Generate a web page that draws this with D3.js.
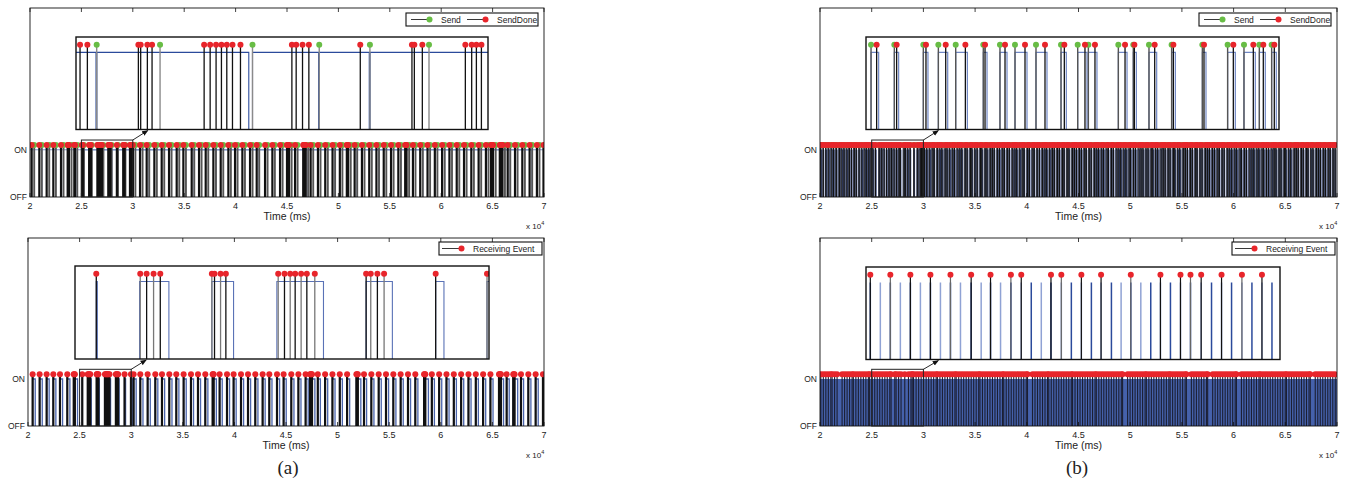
<!DOCTYPE html>
<html>
<head>
<meta charset="utf-8">
<script src="https://cdn.jsdelivr.net/npm/d3@7"></script>
<style>
body { margin: 0; background: #fff; }
text { font-family: "Liberation Sans", Arial, sans-serif; fill: #222; }
</style>
</head>
<body>
<script>
"use strict";

// axis ticks
const xTicks = [20000, 25000, 30000, 35000, 40000, 45000, 50000, 55000, 60000, 65000, 70000];
const xTickLabels = ["2", "2.5", "3", "3.5", "4", "4.5", "5", "5.5", "6", "6.5", "7"];
const yTicks = [0, 1];
const yTickLabels = ["OFF", "ON"];

// (a) sender: zoomed window 25000-30000 ms
const aDoneZoom = [25049, 25138, 25757, 25785, 25866, 25923, 26555, 26628, 26700, 26765, 26830, 26899, 26996,
  27620, 27672, 27749, 27826, 28450, 29077, 29106, 29203, 29725, 29802, 29859, 29920];
const aSendZoom = [25251, 26020, 27142, 27952, 28567, 29284];
const aDipsZoom = [[25243, 25253], [27097, 27142], [27944, 27954], [28559, 28569]];
// (a) sender: rest of the run
const aDoneMain = [20162, 20908, 21621, 22270, 23016, 23665, 23720, 23790, 24314, 24380,
  30010, 30703, 31351, 32097, 32811, 33524, 34270, 34919, 35730, 36443, 37092, 37838, 38551, 39297, 39946,
  40659, 41405, 42054, 42865, 43578, 44324, 45000, 45060, 45130, 45200, 45784, 46580, 46640, 46700, 46760,
  46820, 47300, 48010, 48720, 49430, 50140, 50820, 50880, 50950, 51580, 52290, 53000, 53700, 54410, 55120,
  55830, 56500, 56560, 56630, 57250, 57960, 58670, 59380, 60090, 60800, 61510, 62220, 62930, 63640, 64350,
  64850, 64910, 64980, 65040, 65700, 65760, 65830, 65900, 65960, 66470, 67180, 67890, 68600, 69310, 69950];
const aSendMain = [20410, 21150, 21870, 22520, 23260, 24040, 24600, 30250, 30950, 31600, 32340, 33060, 33770,
  34520, 35170, 35980, 36690, 37340, 38090, 38800, 39540, 40190, 40910, 41650, 42300, 43110, 43820, 44570,
  45450, 46030, 47060, 47550, 48260, 48970, 49680, 50390, 51200, 51830, 52540, 53250, 53950, 54660, 55370,
  56080, 56880, 57500, 58210, 58920, 59630, 60340, 61050, 61760, 62470, 63180, 63890, 64600, 65300, 66200,
  66720, 67430, 68140, 68850, 69560];
const aDipsMain = [[21140, 21150], [23250, 23260], [24590, 24600], [31590, 31600], [33760, 33770], [35970, 35980],
  [38080, 38090], [40180, 40190], [42290, 42300], [44560, 44570], [47050, 47060], [49670, 49680], [51820, 51830],
  [53940, 53950], [56070, 56080], [58200, 58210], [60330, 60340], [62460, 62470], [64590, 64600], [66710, 66720],
  [68840, 68850]];

// (a) receiver
const aRxZoom = [25257, 25788, 25865, 25949, 26030, 26653, 26685, 26758, 26822, 27454, 27530, 27599, 27659,
  27731, 27800, 27896, 28516, 28572, 28652, 28733, 29356, 29976];
const aRxOnZoom = [[25257, 25270], [25780, 26134], [26653, 26915], [27438, 28001], [28516, 28833], [29356, 29456],
  [29976, 30100]];
const aRxMain = [20449, 21127, 21806, 22452, 23098, 23808, 24430, 24486, 24540, 30233, 30882, 31592, 32336,
  32982, 33692, 34370, 35079, 35792, 36470, 37180, 37889, 37940, 37990, 38567, 39283, 39922, 40640, 41318,
  42025, 42734, 43382, 44128, 44768, 45514, 46200, 46900, 47330, 47400, 47460, 47520, 48080, 48790, 49500,
  50210, 50920, 51820, 51890, 51960, 52560, 53270, 53980, 54690, 55400, 56110, 56820, 57530, 58380, 58440,
  58500, 59130, 59840, 60550, 61260, 61970, 62680, 63390, 64100, 64810, 65640, 65700, 65760, 65830, 66380,
  67020, 67080, 67150, 67770, 68480, 69190, 69900];
const aRxOnMain = [[20449, 20700], [21127, 21380], [21806, 22050], [22452, 22700], [23098, 23350], [23808, 24060],
  [24430, 24800], [30233, 30480], [30882, 31140], [31592, 31850], [32336, 32580], [32982, 33240], [33692, 33950],
  [34370, 34620], [35079, 35330], [35792, 36040], [36470, 36720], [37180, 37430], [37889, 38250], [38567, 38820],
  [39283, 39530], [39922, 40170], [40640, 40890], [41318, 41570], [42025, 42280], [42734, 42980], [43382, 43640],
  [44128, 44380], [44768, 45020], [45514, 45770], [46200, 46450], [46900, 47150], [47330, 47800], [48080, 48330],
  [48790, 49040], [49500, 49750], [50210, 50460], [50920, 51170], [51820, 52250], [52560, 52810], [53270, 53520],
  [53980, 54230], [54690, 54940], [55400, 55650], [56110, 56360], [56820, 57070], [57530, 57780], [58380, 58800],
  [59130, 59380], [59840, 60090], [60550, 60800], [61260, 61510], [61970, 62220], [62680, 62930], [63390, 63640],
  [64100, 64350], [64810, 65060], [65640, 66080], [66380, 66630], [67020, 67450], [67770, 68020], [68480, 68730],
  [69190, 69440], [69900, 70000]];

// (b) sender: [Send, SendDone] pairs
const bPairsZoom = [[25061, 25129], [25343, 25371], [25694, 25726], [25876, 25965], [26086, 26203], [26420, 26441],
  [26622, 26683], [26804, 26925], [27058, 27167], [27361, 27401], [27563, 27651], [27692, 27772], [28055, 28136],
  [28236, 28249], [28426, 28495], [28700, 28721], [29072, 29092], [29378, 29447], [29576, 29689], [29762, 29810],
  [29911, 29943]];
const bPairsMain = [[20020, 20080], [20290, 20315], [20540, 20570], [20760, 20850], [21030, 21140], [21300, 21320],
  [21520, 21580], [21770, 21890], [22010, 22115], [22290, 22330], [22510, 22600], [22760, 22840], [23030, 23045],
  [23250, 23320], [23490, 23510], [23760, 23780], [23980, 24050], [24230, 24340], [24470, 24520], [24700, 24730],
  [24880, 24950], [30060, 30120], [30310, 30330], [30540, 30620], [30800, 30910], [31020, 31045], [31290, 31350],
  [31510, 31600], [31770, 31790], [32000, 32110], [32260, 32290], [32480, 32550], [32750, 32840], [32990, 33010],
  [33220, 33330], [33480, 33540], [33700, 33720], [33960, 34050], [34200, 34230], [34450, 34560], [34660, 34700],
  [34930, 34990], [35170, 35200], [35420, 35530], [35640, 35660], [35890, 35980], [36130, 36150], [36360, 36470],
  [36610, 36670], [36830, 36850], [37090, 37180], [37340, 37370], [37560, 37670], [37800, 37830], [38060, 38120],
  [38290, 38310], [38530, 38640], [38780, 38860], [39010, 39030], [39260, 39330], [39500, 39610], [39720, 39745],
  [39990, 40080], [40220, 40250], [40470, 40580], [40690, 40720], [40950, 41010], [41200, 41220], [41420, 41530],
  [41680, 41760], [41910, 41930], [42160, 42220], [42380, 42490], [42640, 42660], [42870, 42960], [43120, 43150],
  [43350, 43460], [43590, 43610], [43840, 43910], [44060, 44080], [44310, 44420], [44540, 44620], [44790, 44810],
  [45010, 45100], [45260, 45290], [45490, 45600], [45720, 45750], [45980, 46040], [46210, 46230], [46450, 46560],
  [46690, 46770], [46930, 46950], [47160, 47250], [47400, 47430], [47640, 47750], [47870, 47890], [48120, 48190],
  [48350, 48370], [48600, 48710], [48830, 48910], [49070, 49090], [49300, 49390], [49560, 49590], [49790, 49900],
  [50020, 50040], [50270, 50330], [50500, 50520], [50740, 50850], [50980, 51060], [51220, 51240], [51450, 51540],
  [51700, 51730], [51930, 52040], [52170, 52190], [52410, 52470], [52640, 52660], [52880, 52990], [53120, 53200],
  [53360, 53380], [53590, 53680], [53830, 53860], [54070, 54180], [54300, 54320], [54550, 54610], [54780, 54800],
  [55030, 55140], [55260, 55340], [55510, 55530], [55740, 55830], [55980, 56010], [56220, 56330], [56450, 56470],
  [56700, 56760], [56930, 56950], [57170, 57280], [57410, 57490], [57650, 57670], [57880, 57970], [58130, 58160],
  [58360, 58470], [58600, 58620], [58840, 58900], [59070, 59090], [59320, 59430], [59550, 59630], [59800, 59820],
  [60030, 60120], [60270, 60300], [60510, 60620], [60740, 60760], [60990, 61050], [61220, 61240], [61460, 61570],
  [61700, 61780], [61940, 61960], [62170, 62260], [62420, 62450], [62650, 62760], [62890, 62910], [63130, 63190],
  [63370, 63390], [63600, 63710], [63850, 63930], [64080, 64100], [64320, 64410], [64560, 64590], [64800, 64910],
  [65030, 65050], [65280, 65340], [65510, 65530], [65760, 65870], [65990, 66070], [66230, 66250], [66470, 66560],
  [66710, 66740], [66950, 67060], [67180, 67200], [67430, 67490], [67660, 67680], [67900, 68010], [68140, 68220],
  [68380, 68400], [68620, 68710], [68860, 68890], [69090, 69200], [69330, 69350], [69570, 69630], [69800, 69820]];

// (b) receiver
const bRxZoom = [25052, 25294, 25536, 25778, 26020, 26270, 26504, 26750, 26875, 27234, 27359, 27601, 27839,
  28198, 28556, 28798, 28919, 29048, 29294, 29540, 29782];
const bWakeZoom = [25052, 25173, 25294, 25415, 25536, 25657, 25778, 25899, 26020, 26141, 26270, 26391, 26504,
  26625, 26750, 26875, 26996, 27117, 27234, 27359, 27480, 27601, 27722, 27839, 27964, 28081, 28198, 28319, 28439,
  28556, 28677, 28798, 28919, 29048, 29173, 29294, 29415, 29540, 29661, 29782, 29903];
const bWakeBand = [[20000, 70000]];
const bRxMain = [20080, 20322, 20564, 20806, 21048, 21169, 21411, 21653, 22137, 22379, 22621, 22863, 23105,
  23226, 23468, 23710, 23952, 24194, 24436, 24678, 24799, 30024, 30266, 30508, 30750, 30992, 31234, 31355,
  31597, 31839, 32081, 32323, 32565, 32807, 33049, 33170, 33412, 33654, 33896, 34138, 34380, 34622, 34864,
  35106, 35348, 35469, 35711, 35953, 36195, 36437, 36679, 36921, 37163, 37405, 37647, 37768, 38010, 38252,
  38494, 38736, 38978, 39220, 39462, 39704, 39946, 40067, 40551, 40793, 41035, 41277, 41519, 41761, 42003,
  42124, 42366, 42608, 42850, 43092, 43334, 43576, 43818, 44060, 44302, 44423, 44665, 44907, 45149, 45391,
  45633, 45875, 46117, 46359, 46601, 46722, 46964, 47206, 47448, 47690, 47932, 48174, 48416, 48658, 48900,
  49142, 49263, 49747, 49989, 50231, 50473, 50715, 50957, 51199, 51441, 51562, 51804, 52046, 52288, 52530,
  52772, 53014, 53256, 53498, 53740, 53861, 54103, 54345, 54587, 54829, 55071, 55313, 55434, 55918, 56160,
  56402, 56644, 56886, 57128, 57370, 57491, 57975, 58217, 58459, 58701, 58943, 59185, 59427, 59669, 59911,
  60153, 60274, 60758, 61000, 61242, 61484, 61726, 61968, 62210, 62452, 62573, 62815, 63057, 63299, 63541,
  63783, 64025, 64267, 64509, 64751, 64993, 65114, 65356, 65598, 65840, 66082, 66324, 66566, 66808, 67050,
  67292, 67413, 67897, 68139, 68381, 68623, 68865, 69107, 69349, 69591, 69833];

const RED = "#e8252b", GREEN = "#68bd45", BLUE = "#2b4a9b", LBLUE = "#8fa2d4";
const STEM = 1.1; // marker height above ON

const svg = d3.select("body").append("svg").attr("width", 1347).attr("height", 489);
const defs = svg.append("defs");
defs.append("marker").attr("id", "arrow").attr("viewBox", "0 0 10 10")
  .attr("refX", 9).attr("refY", 5).attr("markerWidth", 7).attr("markerHeight", 7)
  .attr("orient", "auto")
  .append("path").attr("d", "M0,1 L10,5 L0,9 Z").attr("fill", "#111");

let clipId = 0;
function clipped(g, x0, y0, w, h) {
  const id = "clip" + (clipId++);
  defs.append("clipPath").attr("id", id).append("rect")
    .attr("x", x0).attr("y", y0).attr("width", w).attr("height", h);
  return g.append("g").attr("clip-path", `url(#${id})`);
}

function panel(box, ins) {
  const x = d3.scaleLinear().domain([20000, 70000]).range([box.x0, box.x1]);
  const y = d3.scaleLinear().domain([0, 4]).range([box.y1, box.y0]);
  const ix = d3.scaleLinear().domain([25000, 30000]).range([ins.x0, ins.x1]);
  const iy = d3.scaleLinear().domain([0, 1.2]).range([ins.y1, ins.y0]);
  const g = svg.append("g");
  g.append("rect").attr("x", box.x0).attr("y", box.y0)
    .attr("width", box.x1 - box.x0).attr("height", box.y1 - box.y0).attr("fill", "#fff");
  const main = clipped(g, box.x0, box.y0, box.x1 - box.x0, box.y1 - box.y0);
  return { x, y, ix, iy, g, main, box, ins };
}

function frame(p) {
  const { x, y, g, box } = p;
  g.append("rect").attr("x", box.x0).attr("y", box.y0)
    .attr("width", box.x1 - box.x0).attr("height", box.y1 - box.y0)
    .attr("fill", "none").attr("stroke", "#111").attr("stroke-width", 0.9);
  g.append("g").selectAll("line").data(xTicks).join("line")
    .attr("x1", d => x(d)).attr("x2", d => x(d)).attr("y1", box.y0).attr("y2", box.y0 + 4)
    .attr("stroke", "#111").attr("stroke-width", 0.8);
  g.append("g").selectAll("line").data(xTicks).join("line")
    .attr("x1", d => x(d)).attr("x2", d => x(d)).attr("y1", box.y1).attr("y2", box.y1 - 4)
    .attr("stroke", "#111").attr("stroke-width", 0.8);
  g.append("g").selectAll("text").data(xTicks).join("text")
    .attr("x", d => x(d)).attr("y", box.y1 + 12).attr("text-anchor", "middle")
    .attr("font-size", 9).text((d, i) => xTickLabels[i]);
  g.append("g").selectAll("text").data(yTicks).join("text")
    .attr("x", box.x0 - 3).attr("y", d => y(d) + 3).attr("text-anchor", "end")
    .attr("font-size", 8.5).text((d, i) => yTickLabels[i]);
  g.append("text").attr("x", (box.x0 + box.x1) / 2).attr("y", box.y1 + 22.5)
    .attr("text-anchor", "middle").attr("font-size", 10.5).text("Time (ms)");
  const ex = g.append("text").attr("x", box.x1 - 18).attr("y", box.y1 + 31.5).attr("font-size", 8);
  ex.append("tspan").text("x 10");
  ex.append("tspan").attr("dy", -4).attr("font-size", 5.5).text("4");
}

function zoomBox(p) {
  const { x, y, g, box, ins } = p;
  const top = y(STEM) - 5;
  g.append("rect").attr("x", x(25000)).attr("y", top)
    .attr("width", x(30000) - x(25000)).attr("height", box.y1 - top)
    .attr("fill", "none").attr("stroke", "#222").attr("stroke-width", 1);
  g.append("line").attr("x1", x(30000)).attr("y1", top)
    .attr("x2", x(30000) + 15).attr("y2", ins.y1 + 1)
    .attr("stroke", "#111").attr("stroke-width", 0.9).attr("marker-end", "url(#arrow)");
}

function inset(p) {
  const { g, ins } = p;
  g.append("rect").attr("x", ins.x0).attr("y", ins.y0)
    .attr("width", ins.x1 - ins.x0).attr("height", ins.y1 - ins.y0).attr("fill", "#fff");
  return clipped(g, ins.x0, ins.y0, ins.x1 - ins.x0, ins.y1 - ins.y0);
}

function insetBorder(p) {
  const { g, ins } = p;
  g.append("rect").attr("x", ins.x0).attr("y", ins.y0)
    .attr("width", ins.x1 - ins.x0).attr("height", ins.y1 - ins.y0)
    .attr("fill", "none").attr("stroke", "#111").attr("stroke-width", 1.4);
}

function stems(g, xs, ys, times, color, w) {
  g.append("g").selectAll("line").data(times).join("line")
    .attr("x1", d => xs(d)).attr("x2", d => xs(d))
    .attr("y1", ys(0)).attr("y2", ys(STEM))
    .attr("stroke", color).attr("stroke-width", w);
}

function dots(g, xs, ys, times, color, r) {
  g.append("g").selectAll("circle").data(times).join("circle")
    .attr("cx", d => xs(d)).attr("cy", ys(STEM)).attr("r", r).attr("fill", color);
}

function dipLine(g, xs, ys, dips, color, w) {
  const pts = [[xs.domain()[0] - 1000, 1]];
  dips.forEach(([s, e]) => pts.push([s, 1], [s, 0], [e, 0], [e, 1]));
  pts.push([xs.domain()[1] + 1000, 1]);
  g.append("path").attr("d", d3.line().x(d => xs(d[0])).y(d => ys(d[1]))(pts))
    .attr("fill", "none").attr("stroke", color).attr("stroke-width", w);
}

function onRects(g, xs, ys, spans, color, w, pad) {
  g.append("g").selectAll("path").data(spans).join("path")
    .attr("d", d => d3.line()([[xs(d[0]), ys(0)], [xs(d[0]), ys(1)], [xs(d[1]) + pad, ys(1)], [xs(d[1]) + pad, ys(0)]]))
    .attr("fill", "none").attr("stroke", color).attr("stroke-width", w);
}

function legend(g, x0, y0, w, items) {
  const h = 13;
  g.append("rect").attr("x", x0).attr("y", y0).attr("width", w).attr("height", h)
    .attr("fill", "#fff").attr("stroke", "#111").attr("stroke-width", 1.1);
  items.forEach(it => {
    const cy = y0 + h / 2;
    g.append("line").attr("x1", x0 + it.dx).attr("x2", x0 + it.dx + it.len).attr("y1", cy).attr("y2", cy)
      .attr("stroke", "#222").attr("stroke-width", 0.9);
    g.append("circle").attr("cx", x0 + it.dx + it.len + 1.5).attr("cy", cy).attr("r", 3).attr("fill", it.color);
    g.append("text").attr("x", x0 + it.dx + it.len + 13).attr("y", cy + 3).attr("font-size", 8.5).text(it.label);
  });
}

// ---------- (a) top: sender ----------
{
  const p = panel({ x0: 30, x1: 544, y0: 8, y1: 197 }, { x0: 76, x1: 488, y0: 37, y1: 129.5 });
  const done = aDoneMain.concat(aDoneZoom), send = aSendMain.concat(aSendZoom);
  dipLine(p.main, p.x, p.y, aDipsMain.concat(aDipsZoom), "#7d92c8", 1);
  stems(p.main, p.x, p.y, send, "#555", 1.9);
  stems(p.main, p.x, p.y, done, "#111", 2.2);
  dots(p.main, p.x, p.y, send, GREEN, 3);
  dots(p.main, p.x, p.y, done, RED, 3);
  frame(p);
  zoomBox(p);
  const c = inset(p);
  dipLine(c, p.ix, p.iy, aDipsZoom, BLUE, 1.1);
  stems(c, p.ix, p.iy, aSendZoom, "#8a8a8a", 1.4);
  stems(c, p.ix, p.iy, aDoneZoom, "#111", 1.3);
  dots(c, p.ix, p.iy, aSendZoom, GREEN, 3);
  dots(c, p.ix, p.iy, aDoneZoom, RED, 3);
  insetBorder(p);
  legend(p.g, 406, 13, 132, [{ dx: 5, len: 17, color: GREEN, label: "Send" },
    { dx: 61, len: 17, color: RED, label: "SendDone" }]);
}

// ---------- (a) bottom: receiver ----------
{
  const p = panel({ x0: 28, x1: 544, y0: 238, y1: 426 }, { x0: 75, x1: 489, y0: 266, y1: 359 });
  const rx = aRxMain.concat(aRxZoom);
  onRects(p.main, p.x, p.y, aRxOnMain.concat(aRxOnZoom), "#4a64ad", 1.3, 0);
  stems(p.main, p.x, p.y, rx, "#111", 2.2);
  dots(p.main, p.x, p.y, rx, RED, 3);
  frame(p);
  zoomBox(p);
  const c = inset(p);
  onRects(c, p.ix, p.iy, aRxOnZoom, "#5a72b6", 1.1, 0);
  c.append("g").selectAll("line").data(aRxZoom).join("line")
    .attr("x1", d => p.ix(d)).attr("x2", d => p.ix(d))
    .attr("y1", p.iy(0)).attr("y2", p.iy(STEM))
    .attr("stroke", (d, i) => i % 2 ? "#777" : "#111").attr("stroke-width", 1.3);
  dots(c, p.ix, p.iy, aRxZoom, RED, 3);
  insetBorder(p);
  legend(p.g, 439, 242, 103, [{ dx: 3, len: 18, color: RED, label: "Receiving Event" }]);
}

// ---------- (b) top: sender ----------
{
  const p = panel({ x0: 820, x1: 1337, y0: 8, y1: 197 }, { x0: 866, x1: 1279, y0: 37, y1: 129.5 });
  const pairs = bPairsMain.concat(bPairsZoom);
  onRects(p.main, p.x, p.y, pairs, "#3b4f8f", 1, 0.6);
  stems(p.main, p.x, p.y, pairs.map(d => d[0]), "#4a4f60", 1.2);
  stems(p.main, p.x, p.y, pairs.map(d => d[1]), "#111", 1.2);
  dots(p.main, p.x, p.y, pairs.map(d => d[0]), GREEN, 3);
  dots(p.main, p.x, p.y, pairs.map(d => d[1]), RED, 3);
  frame(p);
  zoomBox(p);
  const c = inset(p);
  onRects(c, p.ix, p.iy, bPairsZoom, "#6f86c4", 1.2, 2);
  stems(c, p.ix, p.iy, bPairsZoom.map(d => d[0]), "#555", 1.4);
  stems(c, p.ix, p.iy, bPairsZoom.map(d => d[1]), "#111", 1.3);
  dots(c, p.ix, p.iy, bPairsZoom.map(d => d[0]), GREEN, 3);
  dots(c, p.ix, p.iy, bPairsZoom.map(d => d[1]), RED, 3);
  insetBorder(p);
  legend(p.g, 1199, 13, 132, [{ dx: 5, len: 17, color: GREEN, label: "Send" },
    { dx: 61, len: 17, color: RED, label: "SendDone" }]);
}

// ---------- (b) bottom: receiver ----------
{
  const p = panel({ x0: 820, x1: 1337, y0: 238, y1: 426 }, { x0: 866, x1: 1280, y0: 267, y1: 359.5 });
  const rx = bRxMain.concat(bRxZoom);
  p.main.append("g").selectAll("rect").data(bWakeBand).join("rect")
    .attr("x", d => p.x(d[0])).attr("width", d => p.x(d[1]) - p.x(d[0]))
    .attr("y", p.y(1)).attr("height", p.y(0) - p.y(1)).attr("fill", "#4561ab");
  stems(p.main, p.x, p.y, rx, "#1b1f33", 1.1);
  dots(p.main, p.x, p.y, rx, RED, 3);
  frame(p);
  zoomBox(p);
  const c = inset(p);
  c.append("g").selectAll("line").data(bWakeZoom).join("line")
    .attr("x1", d => p.ix(d)).attr("x2", d => p.ix(d))
    .attr("y1", p.iy(0)).attr("y2", p.iy(1))
    .attr("stroke", (d, i) => i % 2 ? LBLUE : BLUE).attr("stroke-width", 1.5);
  c.append("g").selectAll("line").data(bRxZoom).join("line")
    .attr("x1", d => p.ix(d)).attr("x2", d => p.ix(d))
    .attr("y1", p.iy(0)).attr("y2", p.iy(STEM))
    .attr("stroke", (d, i) => i % 3 === 1 ? "#666" : "#111").attr("stroke-width", 1.2);
  dots(c, p.ix, p.iy, bRxZoom, RED, 3);
  insetBorder(p);
  legend(p.g, 1232, 242, 103, [{ dx: 3, len: 18, color: RED, label: "Receiving Event" }]);
}

// sub-figure captions
svg.append("text").attr("x", 288).attr("y", 474).attr("text-anchor", "middle")
  .style("font-family", "'Liberation Serif', 'Times New Roman', serif").attr("font-size", 19).text("(a)");
svg.append("text").attr("x", 1077).attr("y", 474).attr("text-anchor", "middle")
  .style("font-family", "'Liberation Serif', 'Times New Roman', serif").attr("font-size", 19).text("(b)");
</script>
</body>
</html>
